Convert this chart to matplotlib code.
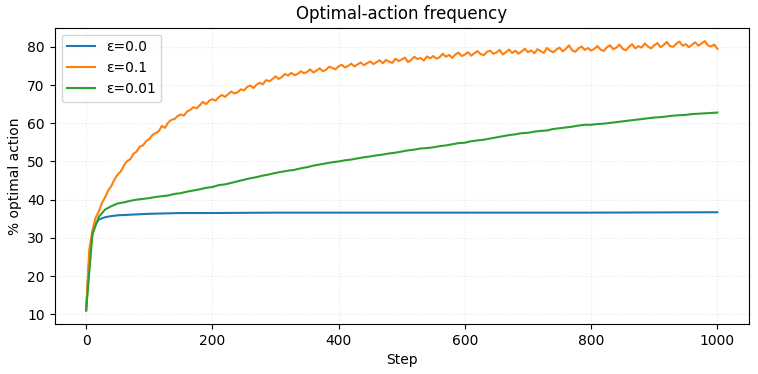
import matplotlib
matplotlib.use("Agg")
import matplotlib.pyplot as plt
import numpy as np

# values
steps_orange = np.arange(0, 1001, 5)
eps_01 = [
    11.0, 27.0, 32.0, 35.3, 36.9, 39.1, 40.6, 42.4, 43.6, 45.3,
    46.6, 47.4, 49.0, 50.1, 50.6, 52.0, 52.6, 53.9, 54.2, 55.3,
    55.9, 56.9, 57.4, 57.9, 59.3, 58.8, 60.2, 60.9, 61.1, 61.9,
    62.3, 62.0, 63.1, 63.5, 64.2, 63.9, 64.7, 65.6, 65.0, 65.9,
    66.3, 65.9, 66.8, 67.4, 66.9, 67.6, 68.3, 67.8, 68.1, 68.9,
    68.6, 69.5, 69.9, 69.2, 70.1, 70.6, 70.2, 71.3, 71.0, 71.5,
    72.3, 71.6, 72.1, 72.9, 72.5, 73.2, 72.6, 72.9, 73.6, 73.1,
    73.4, 74.1, 73.3, 73.8, 74.4, 73.6, 74.0, 74.8, 74.5, 74.1,
    74.9, 75.3, 74.6, 75.0, 75.6, 74.9, 75.4, 75.9, 75.2, 75.7,
    76.2, 75.5, 76.0, 76.5, 75.7, 76.6, 76.1, 75.8, 76.9, 76.3,
    76.7, 77.2, 76.0, 76.6, 77.4, 76.8, 77.1, 76.4, 77.5, 77.0,
    77.6, 76.9, 77.3, 78.2, 77.4, 77.9, 77.1, 78.0, 78.5, 77.6,
    78.0, 78.6, 77.7, 78.3, 78.9, 78.1, 77.8, 78.7, 79.0, 78.2,
    78.5, 79.2, 78.0, 78.6, 79.3, 78.4, 79.0, 78.2, 78.8, 79.5,
    78.6, 79.1, 78.3, 79.4, 78.9, 78.4, 79.7, 79.0, 78.6, 79.3,
    79.8, 78.8, 79.5, 80.4, 79.1, 78.7, 79.6, 80.1, 79.2, 79.7,
    79.0, 79.5, 80.2, 79.3, 78.9, 79.9, 80.4, 79.4, 79.8, 80.6,
    79.5, 79.1, 80.0, 80.7, 79.6, 80.2, 79.8, 80.9, 80.1, 79.6,
    80.4, 81.0, 79.9, 80.5, 81.3, 80.2, 80.0, 80.8, 81.4, 80.3,
    80.7, 79.9, 80.6, 81.2, 80.3, 80.9, 81.5, 80.4, 80.1, 80.6,
    79.5,
]

steps_green = np.arange(0, 1001, 10)
eps_001 = [
    11.0, 31.0, 35.5, 37.4, 38.3, 39.0, 39.3, 39.7, 40.0, 40.2,
    40.4, 40.7, 40.9, 41.1, 41.5, 41.7, 42.1, 42.4, 42.7, 43.1,
    43.3, 43.8, 44.0, 44.4, 44.8, 45.2, 45.6, 45.9, 46.3, 46.6,
    47.0, 47.3, 47.6, 47.8, 48.2, 48.5, 48.9, 49.2, 49.5, 49.8,
    50.0, 50.3, 50.5, 50.8, 51.1, 51.3, 51.6, 51.8, 52.1, 52.3,
    52.6, 52.9, 53.1, 53.4, 53.5, 53.7, 54.0, 54.2, 54.5, 54.8,
    54.9, 55.3, 55.5, 55.7, 56.0, 56.3, 56.6, 56.9, 57.1, 57.4,
    57.5, 57.8, 58.0, 58.1, 58.5, 58.7, 58.9, 59.1, 59.4, 59.6,
    59.6, 59.8, 59.9, 60.1, 60.3, 60.5, 60.7, 60.9, 61.1, 61.3,
    61.5, 61.6, 61.8, 62.0, 62.1, 62.2, 62.4, 62.5, 62.6, 62.7,
    62.8,
]

steps_blue = [0, 5, 10, 15, 20, 30, 40, 50, 75, 100, 150, 200, 300, 400, 600, 800, 1000]
eps_00 = [11.0, 25.0, 31.0, 33.5, 34.8, 35.4, 35.7, 35.9, 36.1, 36.3, 36.5, 36.5, 36.6, 36.6, 36.6, 36.6, 36.7]

fig, ax = plt.subplots(figsize=(7.58, 3.74), dpi=100)
fig.subplots_adjust(left=0.072, right=0.988, bottom=0.134, top=0.926)

ax.plot(steps_blue, eps_00, label="ε=0.0")
ax.plot(steps_orange, eps_01, label="ε=0.1")
ax.plot(steps_green, eps_001, label="ε=0.01")

ax.set_title("Optimal-action frequency")
ax.set_xlabel("Step")
ax.set_ylabel("% optimal action")
ax.grid(True, linestyle=":", alpha=0.3)
ax.legend(loc="upper left")

fig.savefig("out.png", dpi=100)
